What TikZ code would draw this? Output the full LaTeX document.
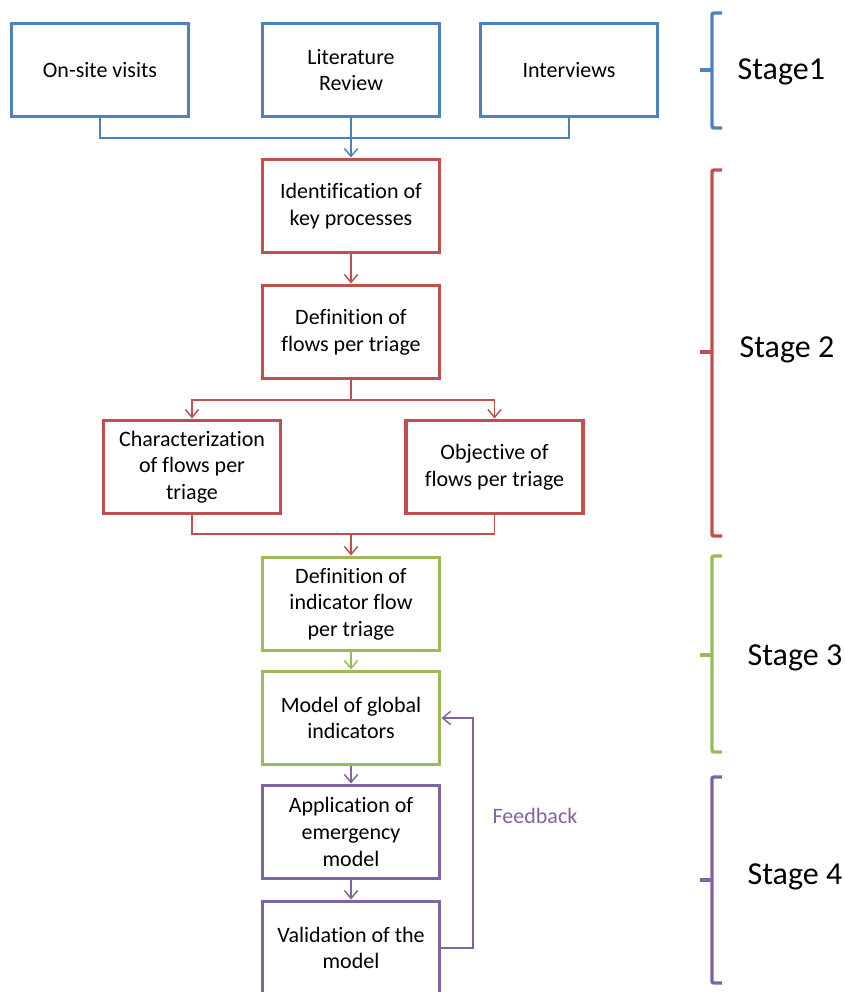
\documentclass[tikz,border=0pt]{standalone}
\usepackage{fontspec}
\setmainfont{Carlito}[Ligatures=NoCommon]
\usetikzlibrary{arrows.meta}
\definecolor{cblue}{HTML}{4F81BD}
\definecolor{cred}{HTML}{C0504D}
\definecolor{cgreen}{HTML}{9BBB59}
\definecolor{cpurple}{HTML}{8064A2}
\begin{document}
\begin{tikzpicture}[x=0.75pt,y=-0.75pt,
  box/.style={draw, line width=2.7pt, fill=white, minimum width=133pt, minimum height=70pt,
    align=center, inner sep=2pt, font=\fontsize{16.5}{20}\selectfont},
  conn/.style={line width=1.1pt},
  arr/.style={conn, -{Straight Barb[length=6pt,width=10pt,line width=1.1pt]}},
  brace/.style={line width=2.6pt, rounded corners=1.5pt},
  stagelbl/.style={font=\fontsize{24}{28}\selectfont, anchor=west}
]
\useasboundingbox (0,0) rectangle (844,992);
% Stage 1
\node[box, draw=cblue] (on)  at (100,70) {On-site visits};
\node[box, draw=cblue] (lit) at (351,70) {Literature\\Review};
\node[box, draw=cblue] (int) at (569,70) {Interviews};
% Stage 2
\node[box, draw=cred] (ident) at (351,206) {Identification of\\key processes};
\node[box, draw=cred] (defn)  at (351,332) {Definition of\\flows per triage};
\node[box, draw=cred] (char)  at (192,467) {Characterization\\of flows per\\triage};
\node[box, draw=cred] (obj)   at (494.5,467) {Objective of\\flows per triage};
% Stage 3
\node[box, draw=cgreen] (ind)   at (351,604) {Definition of\\indicator flow\\per triage};
\node[box, draw=cgreen] (model) at (351,718) {Model of global\\indicators};
% Stage 4
\node[box, draw=cpurple] (app) at (351,832) {Application of\\emergency\\model};
\node[box, draw=cpurple] (val) at (351,948) {Validation of the\\model};

% connectors
\coordinate (j1) at (351,138);
\draw[conn, cblue] (on.south) |- (j1) -| (int.south);
\draw[arr, cblue] (lit.south) -- (ident.north);
\draw[arr, cred] (ident.south) -- (defn.north);
\coordinate (s1) at (351,400);
\draw[conn, cred] (defn.south) -- (s1);
\draw[arr, cred] (s1) -| (char.north);
\draw[arr, cred] (s1) -| (obj.north);
\coordinate (m1) at (351,534);
\draw[conn, cred] (char.south) |- (m1) -| (obj.south);
\draw[arr, cred] (m1) -- (ind.north);
\draw[arr, cgreen] (ind.south) -- (model.north);
\draw[arr, cpurple] (model.south) -- (app.north);
\draw[arr, cpurple] (app.south) -- (val.north);
\coordinate (fb) at (473,948);
\draw[arr, cpurple] (val.east) -- (fb) |- (model.east);
\node[text=cpurple, font=\fontsize{16.5}{20}\selectfont] (fbl) at (535,816) {Feedback};

% braces
\draw[brace, cblue] (722,13) -- (712,13) -- (712,128) -- (722,128);
\draw[brace, cblue] (712,70) -- (700,70);
\node[stagelbl] (s1l) at (733,72) {Stage1};
\draw[brace, cred] (722,170) -- (712,170) -- (712,536) -- (722,536);
\draw[brace, cred] (712,352) -- (700,352);
\node[stagelbl] (s2l) at (735,350) {Stage 2};
\draw[brace, cgreen] (722,556) -- (712,556) -- (712,752) -- (722,752);
\draw[brace, cgreen] (712,655) -- (700,655);
\node[stagelbl] (s3l) at (743,658) {Stage 3};
\draw[brace, cpurple] (722,777) -- (712,777) -- (712,983) -- (722,983);
\draw[brace, cpurple] (712,880) -- (700,880);
\node[stagelbl] (s4l) at (743,877) {Stage 4};
\end{tikzpicture}
\end{document}
